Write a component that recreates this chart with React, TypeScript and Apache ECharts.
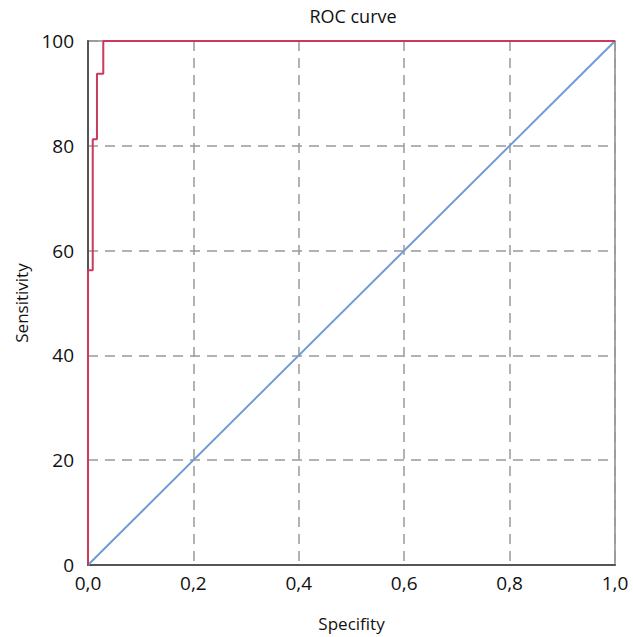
import React, { useEffect, useRef } from "react";
import * as echarts from "echarts";

const rocX = [0, 0, 0.009, 0.009, 0.017, 0.017, 0.029, 0.029, 1.0];
const rocY = [0, 56.25, 56.25, 81.25, 81.25, 93.75, 93.75, 100, 100];
const refX = [0, 1.0];
const refY = [0, 100];

const FONT = "Open Sans";

export default function App() {
  const ref = useRef<HTMLDivElement>(null);
  useEffect(() => {
    if (!ref.current) return;
    const chart = echarts.init(ref.current, null, { renderer: "svg" });
    chart.setOption({
      animation: false,
      backgroundColor: "#ffffff",
      title: {
        text: "ROC curve",
        left: 348,
        textAlign: "center",
        top: 2,
        textStyle: { fontFamily: FONT, fontSize: 18, fontWeight: "normal", color: "#111" },
      },
      grid: {
        left: 88,
        right: 18,
        top: 41,
        bottom: 69,
        show: true,
        borderColor: "#8a8a8a",
        borderWidth: 1.5,
      },
      xAxis: {
        type: "value",
        min: 0,
        max: 1,
        interval: 0.2,
        name: "Specifity",
        nameLocation: "middle",
        nameGap: 50,
        nameTextStyle: { fontFamily: FONT, fontSize: 17, color: "#111" },
        axisLine: { show: true, lineStyle: { color: "#555", width: 2 } },
        axisTick: { show: false },
        axisLabel: {
          fontFamily: FONT,
          fontSize: 19,
          lineHeight: 17,
          color: "#111",
          margin: 9,
          formatter: (v: number) => v.toFixed(1).replace(".", ","),
        },
        splitLine: { show: true, lineStyle: { color: "#999", type: [10, 7], width: 1.5 } },
      },
      yAxis: {
        type: "value",
        min: 0,
        max: 100,
        interval: 20,
        name: "Sensitivity",
        nameLocation: "middle",
        nameGap: 58,
        nameTextStyle: { fontFamily: FONT, fontSize: 17, color: "#111" },
        axisLine: { show: true, lineStyle: { color: "#555", width: 2 } },
        axisTick: { show: false },
        axisLabel: { fontFamily: FONT, fontSize: 19, lineHeight: 17, color: "#111", margin: 14 },
        splitLine: { show: true, lineStyle: { color: "#999", type: [10, 7], width: 1.5 } },
      },
      series: [
        {
          type: "line",
          data: refX.map((x, i) => [x, refY[i]]),
          symbol: "none",
          lineStyle: { color: "#6f9bd6", width: 2 },
          z: 3,
        },
        {
          type: "line",
          data: rocX.map((x, i) => [x, rocY[i]]),
          symbol: "none",
          lineStyle: { color: "#c93a5c", width: 2 },
          z: 4,
        },
      ],
    });
    return () => chart.dispose();
  }, []);
  return <div ref={ref} style={{ width: 633, height: 637, position: "absolute", left: 0, top: 0 }} />;
}
